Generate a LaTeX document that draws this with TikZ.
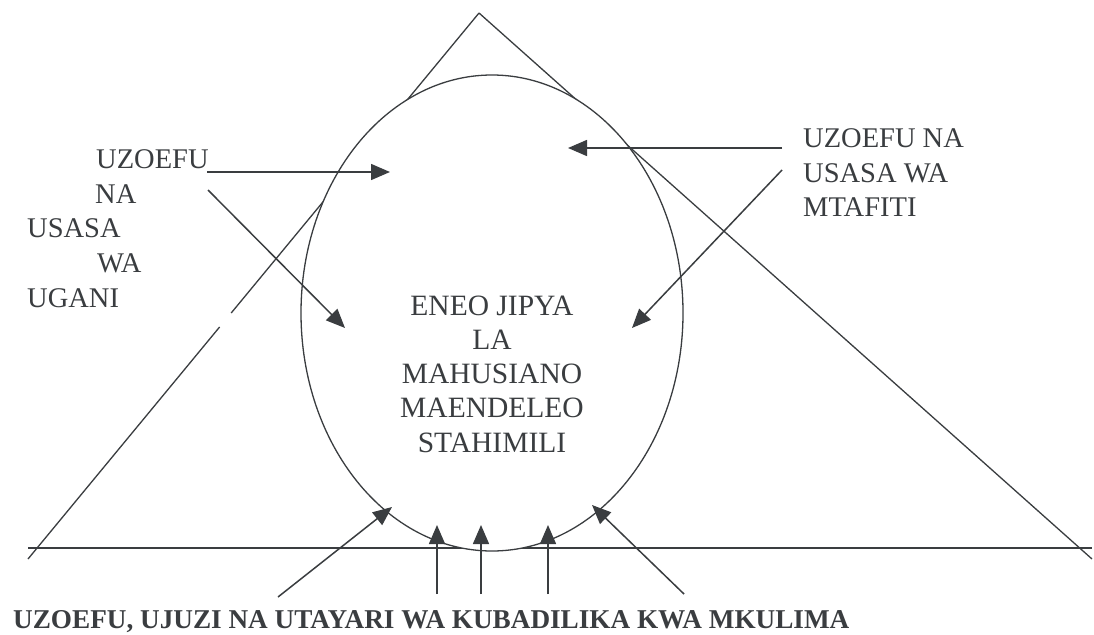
\documentclass[tikz,border=0pt]{standalone}
\usepackage{fontspec}
\setmainfont{Liberation Serif}
\usetikzlibrary{arrows.meta}
\definecolor{ink}{HTML}{3A3D40}
\begin{document}
\begin{tikzpicture}[x=1pt,y=-1pt,
  line/.style={draw=ink, line width=1.3pt},
  arr/.style={draw=ink, line width=1.5pt, -{Triangle[length=19pt,width=16pt]}},
  lbl/.style={inner sep=0pt, text=ink, anchor=base west, font=\fontsize{28.5}{34}\selectfont},
  clbl/.style={inner sep=0pt, text=ink, anchor=base, font=\fontsize{29.5}{34}\selectfont},
  blbl/.style={inner sep=0pt, text=ink, anchor=base west, font=\fontsize{27.2}{32}\selectfont\bfseries},
  ]
\useasboundingbox (0,0) rectangle (1094,634);
\fill[white] (0,0) rectangle (1094,634);

% triangle
\coordinate (apex) at (479,13);
\coordinate (bl) at (28,559);
\coordinate (br) at (1092,559);
\coordinate (gapA) at (231.2,313);
\coordinate (gapB) at (219.6,327);
\coordinate (baseL) at (28,548);
\coordinate (baseR) at (1092,548);
\draw[line] (apex) -- (gapA);
\draw[line] (gapB) -- (bl);
\draw[line] (apex) -- (br);
\draw[line] (baseL) -- (baseR);

% ellipse
\draw[line, fill=white] (492,313) ellipse [x radius=191, y radius=238];

% left text
\node[lbl] (l1) at (96,168) {UZOEFU};
\node[lbl] (l2) at (95,203) {NA};
\node[lbl] (l3) at (27,237) {USASA};
\node[lbl] (l4) at (97,272) {WA};
\node[lbl] (l5) at (27,307) {UGANI};

% right text
\node[lbl] (r1) at (803,147) {UZOEFU NA};
\node[lbl] (r2) at (803,182) {USASA WA};
\node[lbl] (r3) at (803,216) {MTAFITI};

% centre text
\node[clbl] (c1) at (492,315) {ENEO JIPYA};
\node[clbl] (c2) at (492,349) {LA};
\node[clbl] (c3) at (492,383) {MAHUSIANO};
\node[clbl] (c4) at (492,417) {MAENDELEO};
\node[clbl] (c5) at (492,452) {STAHIMILI};

% bottom text
\node[blbl] (b1) at (13,628) {UZOEFU, UJUZI NA UTAYARI WA KUBADILIKA KWA MKULIMA};

% arrows
\coordinate (a1s) at (207,172); \coordinate (a1t) at (390,172);
\coordinate (a2s) at (208,190); \coordinate (a2t) at (345,328);
\coordinate (a3s) at (782,148); \coordinate (a3t) at (568,148);
\coordinate (a4s) at (782,170); \coordinate (a4t) at (632,328);
\coordinate (a5s) at (278,597); \coordinate (a5t) at (392,507);
\coordinate (a6s) at (437,594); \coordinate (a6t) at (437,525);
\coordinate (a7s) at (481,594); \coordinate (a7t) at (481,525);
\coordinate (a8s) at (548,594); \coordinate (a8t) at (548,525);
\coordinate (a9s) at (684,594); \coordinate (a9t) at (592,505);
\foreach \i in {1,...,9} { \draw[arr] (a\i s) -- (a\i t); }
\end{tikzpicture}
\end{document}
